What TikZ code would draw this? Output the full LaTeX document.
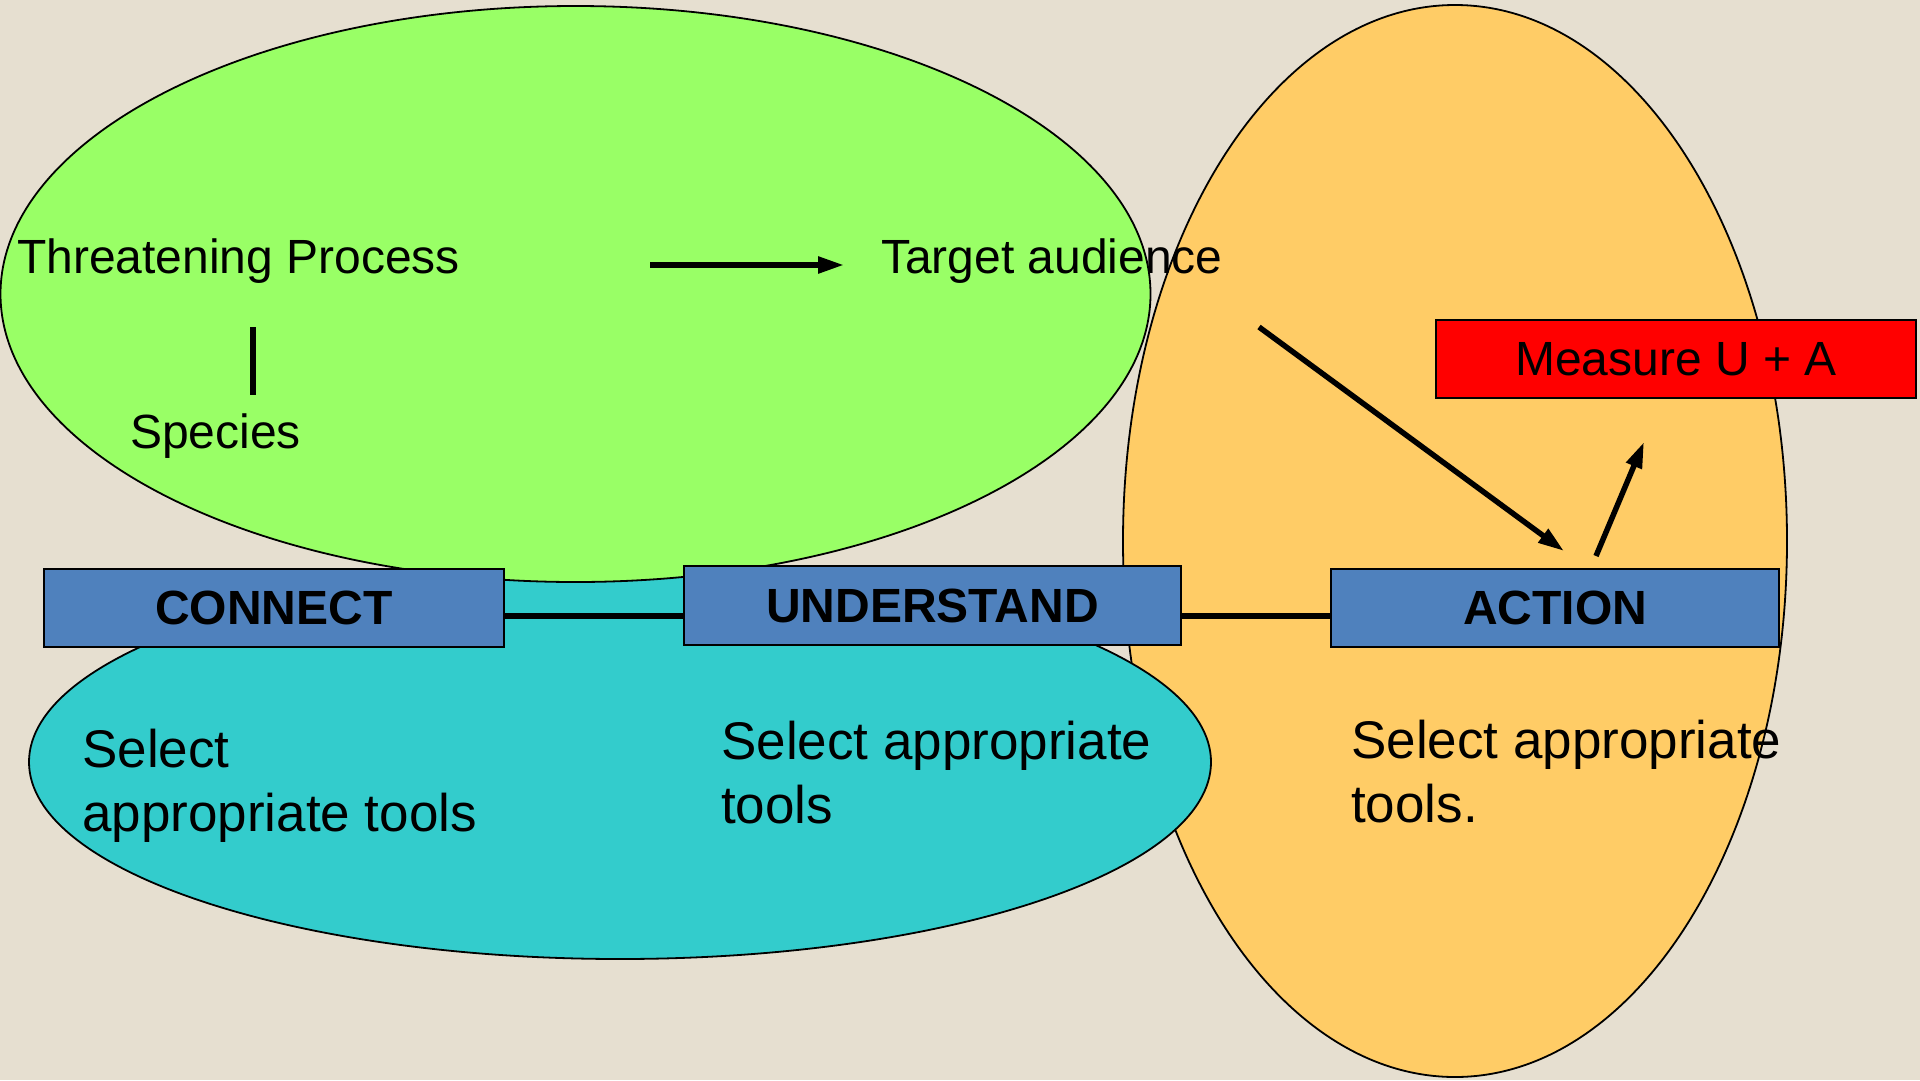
\documentclass[tikz,border=0pt]{standalone}
\usepackage{fontspec}
\setmainfont{Liberation Sans}
\usetikzlibrary{arrows.meta,calc}
\definecolor{canvas}{HTML}{E6DFD0}
\definecolor{leafgreen}{HTML}{99FF66}
\definecolor{sand}{HTML}{FFCC66}
\definecolor{lagoon}{HTML}{33CCCC}
\definecolor{stageblue}{HTML}{4F81BD}
\definecolor{alertred}{HTML}{FF0000}

\begin{document}
\begin{tikzpicture}[x=1pt,y=-1pt,
  zone/.style={draw=black, line width=1.8pt},
  stage/.style={draw=black, line width=2.8pt, fill=stageblue, inner sep=0pt,
    font=\fontsize{48}{57}\selectfont\bfseries},
  txt/.style={inner sep=0pt, anchor=base west, font=\fontsize{48}{57.6}\selectfont},
  bigtxt/.style={inner sep=0pt, anchor=base west, align=left,
    font=\fontsize{53}{63.5}\selectfont},
  link/.style={line width=5.5pt},
  arr/.style={line width=5.5pt, -{Triangle[length=26pt,width=16pt]}}
]
% canvas
\fill[canvas] (0,0) rectangle (1920,1080);
\useasboundingbox (0,0) rectangle (1920,1080);

% the three zones
\draw[zone, fill=sand] (1455,541) ellipse [x radius=332pt, y radius=536pt];
\draw[zone, fill=lagoon] (620,762) ellipse [x radius=591pt, y radius=197pt];
\draw[zone, fill=leafgreen] (575.5,294) ellipse [x radius=575pt, y radius=288pt];

% texts in the green zone
\node[txt] (threat) at (17,273) {Threatening Process};
\node[txt] (target) at (881,273) {Target audience};
\node[txt] (species) at (130,448) {Species};
\coordinate (tpLow) at (253,327);
\coordinate (spTop) at (253,395);
\draw[link] (tpLow) -- (spTop);
\coordinate (flowA) at (650,265);
\coordinate (flowB) at (844,265);
\draw[arr] (flowA) -- (flowB);

% stage boxes
\node[stage, minimum width=460pt, minimum height=78pt] (connect) at (274,608) {CONNECT};
\node[stage, minimum width=497pt, minimum height=79pt] (understand) at (932.5,605.5) {UNDERSTAND};
\node[stage, minimum width=448pt, minimum height=78pt] (action) at (1555,608) {ACTION};
\node[draw=black, line width=2.8pt, fill=alertred, inner sep=0pt,
  minimum width=480pt, minimum height=78pt,
  font=\fontsize{48}{57.6}\selectfont] (measure) at (1676,359) {Measure U + A};

% links between the stages
\coordinate (cu) at ($(connect.east)+(0,8)$);
\draw[link] (cu) -- (cu -| understand.west);
\coordinate (ua) at ($(action.west)+(0,8)$);
\draw[link] (ua -| understand.east) -- (ua);

% arrows towards action and measurement
\coordinate (audOut) at (1259,327);
\coordinate (actIn) at (1564,551);
\draw[arr] (audOut) -- (actIn);
\coordinate (actOut) at (1596,556);
\coordinate (measIn) at (1644,442);
\draw[arr] (actOut) -- (measIn);

% tool notes (anchored on the baseline of the last line)
\node[bigtxt] (toolsC) at (82,831) {Select\\appropriate tools};
\node[bigtxt] (toolsU) at (721,823) {Select appropriate\\tools};
\node[bigtxt] (toolsA) at (1351,822) {Select appropriate\\tools.};
\end{tikzpicture}
\end{document}
